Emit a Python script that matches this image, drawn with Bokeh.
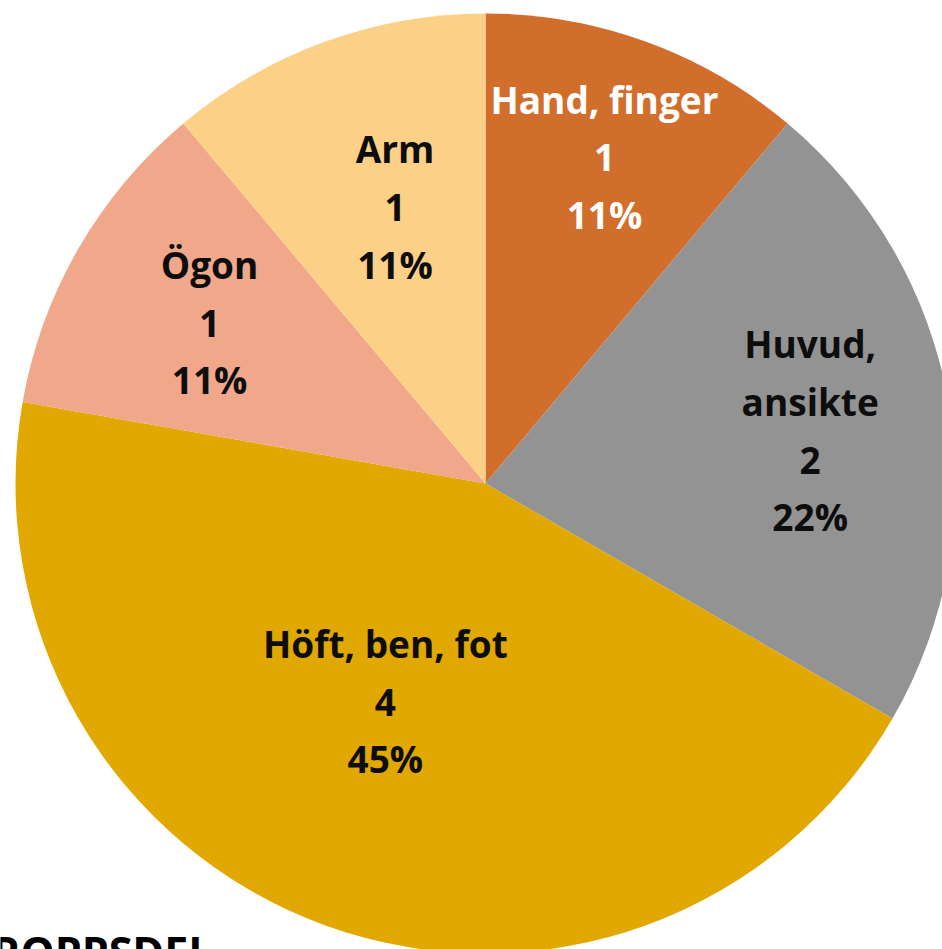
import math
from bokeh.plotting import figure
from bokeh.models import Range1d, ColumnDataSource
from bokeh.core.properties import value
from bokeh.embed import file_html
from bokeh.resources import INLINE

# ---- data ----
categories = ["Hand, finger", "Huvud, ansikte", "Höft, ben, fot", "Ögon", "Arm"]
label_names = ["Hand, finger", "Huvud,\nansikte", "Höft, ben, fot", "Ögon", "Arm"]
counts = [1, 2, 4, 1, 1]
percent_labels = ["11%", "22%", "45%", "11%", "11%"]
title_text = "KROPPSDEL"

# ---- style ----
colors = ["#D26E2B", "#939393", "#E0A800", "#F0A78A", "#FDD088"]
text_colors = ["#FFFFFF", "#0D0D0D", "#0D0D0D", "#0D0D0D", "#0D0D0D"]
label_radius = [0.74, 0.70, 0.51, 0.68, 0.62]
label_angle_nudge = [0.0, 0.7, 4.7, 0.3, 1.9]   # degrees, clockwise
FONT = "Open Sans"
FONT_SIZE = "37px"

W, H = 942, 949
cx, cy, R = 485, 466, 470

total = sum(counts)
starts, ends, lx, ly, ltext = [], [], [], [], []
cum = 0.0
for i, c in enumerate(counts):
    c0 = cum / total
    c1 = (cum + c) / total
    cum += c
    starts.append(math.pi / 2 - 2 * math.pi * c0)
    ends.append(math.pi / 2 - 2 * math.pi * c1)
    theta = math.radians(360 * (c0 + c1) / 2 + label_angle_nudge[i])
    lx.append(cx + R * label_radius[i] * math.sin(theta))
    ly.append(cy + R * label_radius[i] * math.cos(theta))
    ltext.append(f"{label_names[i]}\n{c}\n{percent_labels[i]}")

src = ColumnDataSource(dict(cat=categories, start=starts, end=ends, color=colors,
                            lx=lx, ly=ly, text=ltext, tcolor=text_colors))

p = figure(width=W, height=H, output_backend="svg", toolbar_location=None,
           x_range=Range1d(0, W), y_range=Range1d(0, H),
           x_axis_type=None, y_axis_type=None, min_border=0,
           outline_line_color=None, background_fill_color="white",
           border_fill_color="white")
p.grid.visible = False

p.wedge(x=cx, y=cy, radius=R, start_angle="start", end_angle="end",
        direction="clock", fill_color="color", line_color=None, source=src)

p.text(x="lx", y="ly", text="text", source=src, text_color="tcolor",
       text_font=value(FONT), text_font_style="bold", text_font_size=FONT_SIZE,
       text_align="center", text_baseline="middle", text_line_height=1.13)

p.text(x=[-37], y=[-2], text=[title_text], text_color="#000000",
       text_font=value(FONT), text_font_style="bold", text_font_size="43px",
       text_align="left", text_baseline="alphabetic")

open("out.html", "w").write(file_html(p, INLINE))
